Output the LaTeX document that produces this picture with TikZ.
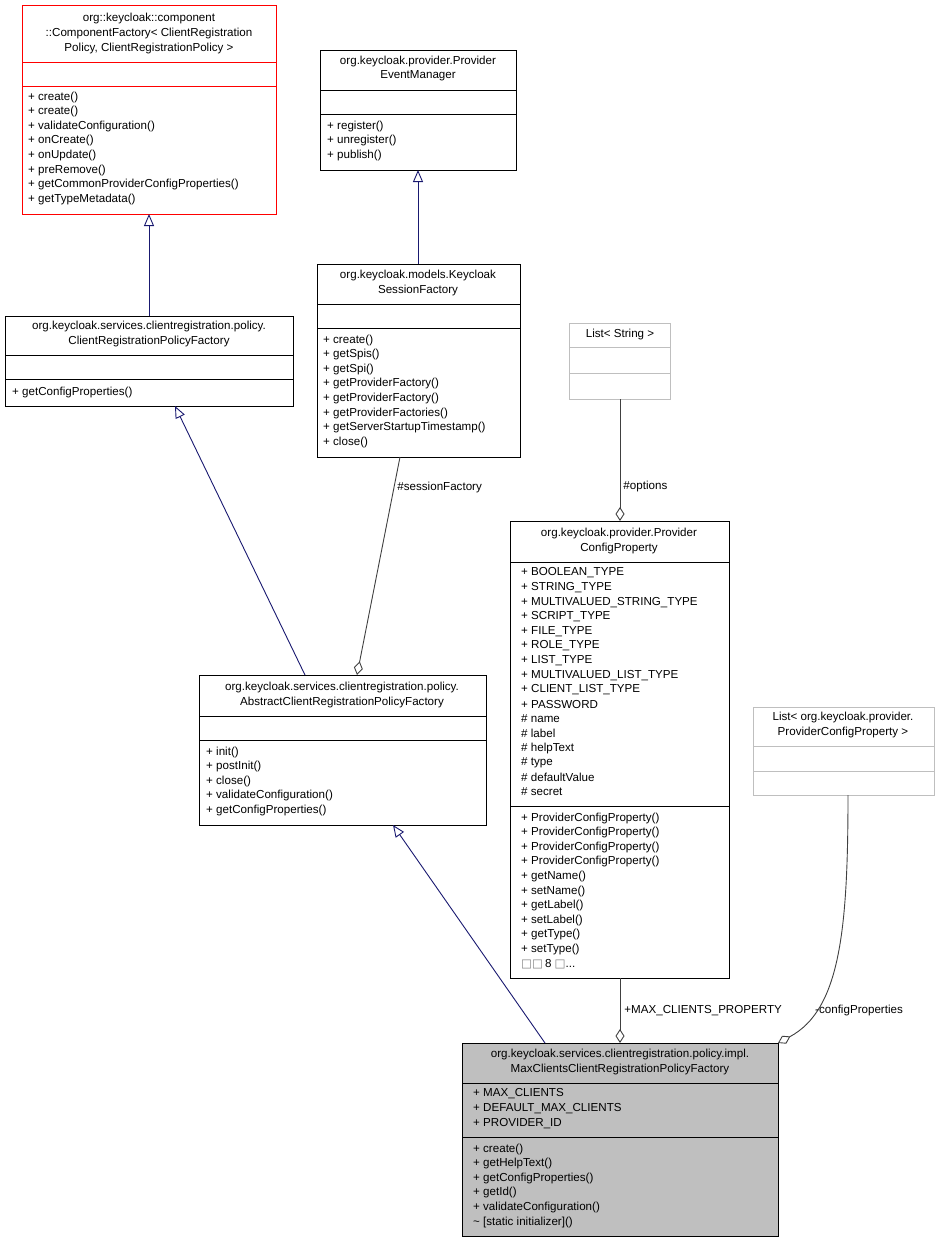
\documentclass[tikz,border=0pt]{standalone}
\usepackage{fontspec}
\setmainfont{Liberation Sans}
\newfontfamily\djfont{DejaVu Sans}
\usetikzlibrary{arrows.meta}
\definecolor{navy}{HTML}{191970}
\definecolor{lg}{HTML}{BFBFBF}
\definecolor{edgegray}{HTML}{404040}
\tikzset{
  box/.style={draw=black, fill=white, inner sep=0pt, outer sep=0pt, line width=0.9pt},
  gbox/.style={box, draw=lg},
  rbox/.style={box, draw=red},
  mbox/.style={box, fill=lg},
  txt/.style={inner sep=0pt, anchor=west, font=\fontsize{11.6}{14}\selectfont},
  ctxt/.style={txt, anchor=center},
  inh/.style={draw=navy, line width=0.9pt, -{Triangle[open,width=10pt,length=12pt]}},
  agg/.style={draw=edgegray, line width=0.9pt, -{Diamond[open,width=9pt,length=14pt]}},
}
\newcommand{\bx}[6]{\node[#6, minimum width=#4-#2, minimum height=#5-#3] (#1) at ({(#2+#4)/2},{(#3+#5)/2}) {};}
\newcommand{\sep}[4][black]{\draw[#1, line width=0.9pt] (#2,#4) -- (#3,#4);}
\begin{document}
\begin{tikzpicture}[x=1pt,y=-1pt]
\useasboundingbox (0,0) rectangle (940,1243);
% Box1
\bx{b1}{22}{5}{276}{214}{rbox}
\sep[red]{22}{276}{62}\sep[red]{22}{276}{86}
\node[ctxt] (b1t1) at (149,18) {org::keycloak::component};
\node[ctxt] (b1t2) at (149,33) {::ComponentFactory< ClientRegistration};
\node[ctxt] (b1t3) at (149,48) {Policy, ClientRegistrationPolicy >};
\foreach \t [count=\i from 0] in {+ create(),+ create(),+ validateConfiguration(),+ onCreate(),+ onUpdate(),+ preRemove(),+ getCommonProviderConfigProperties(),+ getTypeMetadata()}
  \node[txt] at (28,{97+14.6*\i}) {\t};
% Box2
\bx{b2}{320}{50}{516}{170}{box}
\sep{320}{516}{90}\sep{320}{516}{114}
\node[ctxt] (b2t1) at (418,61) {org.keycloak.provider.Provider};
\node[ctxt] (b2t2) at (418,76) {EventManager};
\foreach \t [count=\i from 0] in {+ register(),+ unregister(),+ publish()}
  \node[txt] at (327,{126+14.6*\i}) {\t};
% Box3
\bx{b3}{5}{316}{293}{406}{box}
\sep{5}{293}{355}\sep{5}{293}{379}
\node[ctxt] (b3t1) at (149,326) {org.keycloak.services.clientregistration.policy.};
\node[ctxt] (b3t2) at (149,341) {ClientRegistrationPolicyFactory};
\node[txt] at (12,392) {+ getConfigProperties()};
% Box4
\bx{b4}{317}{264}{520}{457}{box}
\sep{317}{520}{304}\sep{317}{520}{328}
\node[ctxt] (b4t1) at (418,275) {org.keycloak.models.Keycloak};
\node[ctxt] (b4t2) at (418,290) {SessionFactory};
\foreach \t [count=\i from 0] in {+ create(),+ getSpis(),+ getSpi(),+ getProviderFactory(),+ getProviderFactory(),+ getProviderFactories(),+ getServerStartupTimestamp(),+ close()}
  \node[txt] at (323,{340+14.6*\i}) {\t};
% Box5
\bx{b5}{569}{323}{670}{399}{gbox}
\sep[lg]{569}{670}{347}\sep[lg]{569}{670}{373}
\node[ctxt] (b5t) at (620,334) {List< String >};
% Box6
\bx{b6}{510}{521}{729}{978}{box}
\sep{510}{729}{562}\sep{510}{729}{806}
\node[ctxt] (b6t1) at (619,533) {org.keycloak.provider.Provider};
\node[ctxt] (b6t2) at (619,548) {ConfigProperty};
\foreach \t [count=\i from 0] in {+ BOOLEAN\_TYPE,+ STRING\_TYPE,+ MULTIVALUED\_STRING\_TYPE,+ SCRIPT\_TYPE,+ FILE\_TYPE,+ ROLE\_TYPE,+ LIST\_TYPE,+ MULTIVALUED\_LIST\_TYPE,+ CLIENT\_LIST\_TYPE,+ PASSWORD,\# name,\# label,\# helpText,\# type,\# defaultValue,\# secret}
  \node[txt] at (521,{573+14.6*\i}) {\t};
\foreach \t [count=\i from 0] in {+ ProviderConfigProperty(),+ ProviderConfigProperty(),+ ProviderConfigProperty(),+ ProviderConfigProperty(),+ getName(),+ setName(),+ getLabel(),+ setLabel(),+ getType(),+ setType()}
  \node[txt] at (521,{818+14.6*\i}) {\t};
\node[txt] at (521,{818+14.6*10}) {{\djfont\color{gray}□□}\,8 {\djfont\color{gray}□}...};
% Box7
\bx{b7}{199}{675}{486}{825}{box}
\sep{199}{486}{716}\sep{199}{486}{740}
\node[ctxt] (b7t1) at (342,687) {org.keycloak.services.clientregistration.policy.};
\node[ctxt] (b7t2) at (342,702) {AbstractClientRegistrationPolicyFactory};
\foreach \t [count=\i from 0] in {+ init(),+ postInit(),+ close(),+ validateConfiguration(),+ getConfigProperties()}
  \node[txt] at (206,{752+14.6*\i}) {\t};
% Box8
\bx{b8}{753}{707}{934}{795}{gbox}
\sep[lg]{753}{934}{746}\sep[lg]{753}{934}{771}
\node[ctxt] (b8t1) at (843,717) {List< org.keycloak.provider.};
\node[ctxt] (b8t2) at (843,732) {ProviderConfigProperty >};
% Box9
\bx{b9}{462}{1043}{778}{1236}{mbox}
\sep{462}{778}{1083}\sep{462}{778}{1137}
\node[ctxt] (b9t1) at (620,1054) {org.keycloak.services.clientregistration.policy.impl.};
\node[ctxt] (b9t2) at (620,1069) {MaxClientsClientRegistrationPolicyFactory};
\foreach \t [count=\i from 0] in {+ MAX\_CLIENTS,+ DEFAULT\_MAX\_CLIENTS,+ PROVIDER\_ID}
  \node[txt] at (473,{1094+14.6*\i}) {\t};
\foreach \t [count=\i from 0] in {+ create(),+ getHelpText(),+ getConfigProperties(),+ getId(),+ validateConfiguration(),\textasciitilde\ [static initializer]()}
  \node[txt] at (473,{1149+14.6*\i}) {\t};
% edges
\draw[inh] (b3.north -| b1.south) -- (b1.south);
\draw[inh] (b4.north -| b2.south) -- (b2.south);
\coordinate (c7) at (305,675);
\coordinate (c3) at (175,406);
\draw[inh] (c7) -- (c3);
\coordinate (c9) at (545,1043);
\coordinate (c7b) at (393,825);
\draw[inh] (c9) -- (c7b);
\coordinate (c4) at (400,457);
\coordinate (c7a) at (357,675);
\draw[agg] (c4) -- node[pos=0.14, right=3pt, txt] (l1) {\#sessionFactory} (c7a);
\draw[agg] (b5.south -| 620,0) -- node[pos=0.72, right=3pt, txt] (l2) {\#options} (b6.north -| 620,0);
\draw[agg] (b6.south -| 620,0) -- node[pos=0.5, right=4pt, txt] (l3) {+MAX\_CLIENTS\_PROPERTY} (b9.north -| 620,0);
\coordinate (c8) at (848,795);
\draw[agg] (c8) .. controls (848,930) and (840,1010) .. (b9.north east);
\node[txt] (l4) at (815,1010) {-configProperties};
\end{tikzpicture}
\end{document}
